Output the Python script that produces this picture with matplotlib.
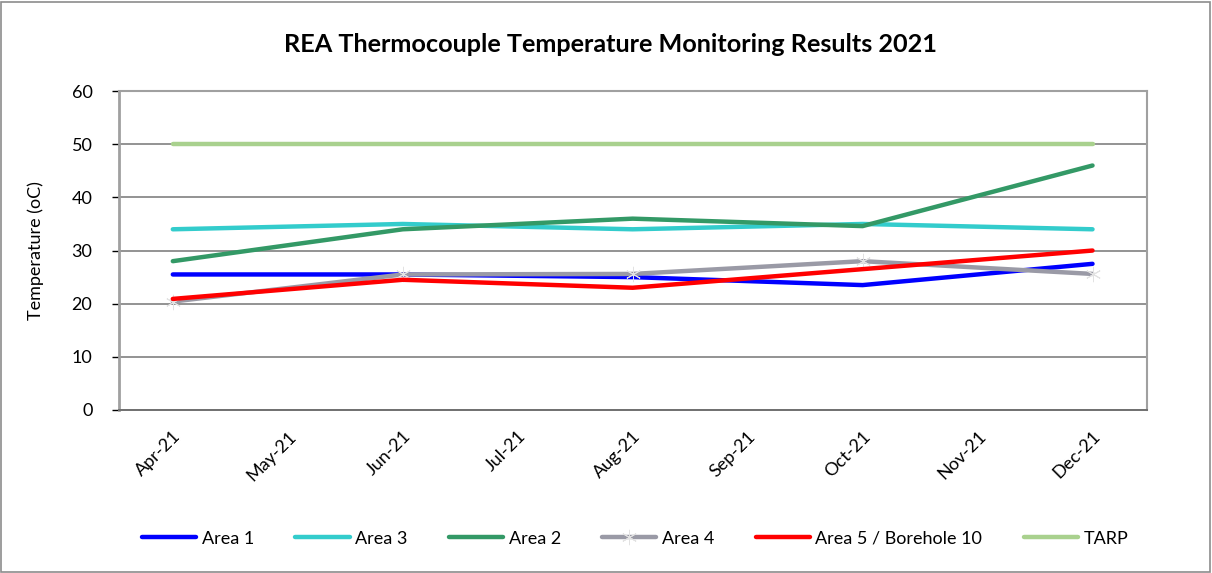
import matplotlib
matplotlib.use("Agg")
import matplotlib.pyplot as plt
from matplotlib.patches import Rectangle
from matplotlib.transforms import ScaledTranslation

months = ["Apr-21", "May-21", "Jun-21", "Jul-21", "Aug-21", "Sep-21", "Oct-21", "Nov-21", "Dec-21"]
sample_months = ["Apr-21", "Jun-21", "Aug-21", "Oct-21", "Dec-21"]
area1 = [25.5, 25.5, 25.0, 23.5, 27.5]
area3 = [34.0, 35.0, 34.0, 35.0, 34.0]
area2 = [28.0, 34.0, 36.0, 34.6, 46.0]
area4 = [20.4, 25.5, 25.6, 28.0, 25.6]
area5 = [20.9, 24.5, 23.0, 26.5, 30.0]
tarp = [50, 50, 50, 50, 50]

plt.rcParams['font.family'] = ['Lato', 'DejaVu Sans']

fig = plt.figure(figsize=(12.12, 5.73), dpi=100)
ax = fig.add_axes([0.098, 0.2845, 0.848, 0.5565])

xs = [months.index(m) for m in sample_months]
series = [
    ("Area 1", area1, "#0000FF", None),
    ("Area 3", area3, "#33CCCC", None),
    ("Area 2", area2, "#339966", None),
    ("Area 4", area4, "#9A9AA6", "asterisk"),
    ("Area 5 / Borehole 10", area5, "#FF0000", None),
    ("TARP", tarp, "#A9D18E", None),
]
for name, vals, col, mk in series:
    if mk:
        ax.plot(xs, vals, color=col, lw=3.2, solid_capstyle='round', label=name,
                marker=(6, 2, 0), markersize=11, markeredgecolor="#E2E2E2", markeredgewidth=0.7)
    else:
        ax.plot(xs, vals, color=col, lw=3.2, solid_capstyle='round', label=name)

ax.set_xlim(-0.47, 8.47)
ax.set_ylim(0, 60)
ax.set_yticks(range(0, 61, 10))
ax.set_xticks(range(len(months)))
ax.tick_params(axis='y', labelsize=13, length=5, width=1, color='black', pad=14)
ax.tick_params(axis='x', length=0, pad=8)
ax.set_xticklabels(months, rotation=45, ha='right', rotation_mode='anchor', fontsize=13)
offset = ScaledTranslation(0.0, -0.07, fig.dpi_scale_trans)
for lbl in ax.get_xticklabels():
    lbl.set_transform(lbl.get_transform() + offset)
ax.grid(axis='y', color='#808080', lw=1.2)
ax.set_axisbelow(True)
for s in ['top', 'right', 'left']:
    ax.spines[s].set_color('#A0A0A0')
    ax.spines[s].set_linewidth(1.5)
ax.spines['left'].set_linewidth(2)
ax.spines['bottom'].set_color('#707070')
ax.spines['bottom'].set_linewidth(1.4)

ax.set_ylabel("Temperature (oC)", fontsize=13, labelpad=20)
fig.text(0.504, 0.922, "REA Thermocouple Temperature Monitoring Results 2021",
         ha='center', va='center', fontsize=18.2, fontweight='bold')

fig.legend(loc='center', bbox_to_anchor=(0.524, 0.06), ncol=6, frameon=False,
           fontsize=13, handlelength=3.0, handletextpad=0.3, columnspacing=2.3)

fig.patches.append(Rectangle((0.001, 0.002), 0.997, 0.995, transform=fig.transFigure,
                             fill=False, edgecolor='#8C8C8C', lw=1.2))

fig.savefig("out.png", dpi=100)
